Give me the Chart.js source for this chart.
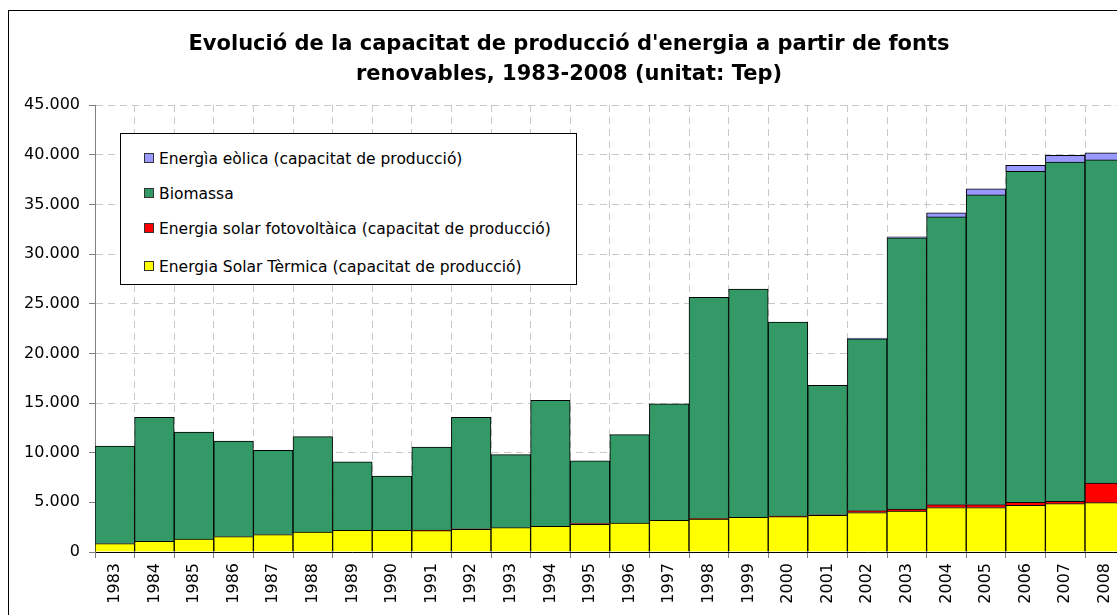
<!DOCTYPE html>
<html>
<head>
<meta charset="utf-8">
<script src="https://cdn.jsdelivr.net/npm/chart.js@4"></script>
<style>
  html, body { margin: 0; padding: 0; background: #fff; overflow: hidden; }
  #frame {
    position: absolute; left: 8px; top: 10px;
    width: 1140px; height: 620px;
    border: 1px solid #000;
  }
  #chart { position: absolute; left: 0; top: 0; }
  #legend {
    position: absolute; left: 111px; top: 122px;
    width: 455px; height: 150px;
    border: 1px solid #000; background: #fff;
    font-family: "DejaVu Sans", sans-serif; font-size: 15.5px; color: #000;
  }
  #legend .item { position: absolute; left: 23px; white-space: nowrap; }
  #legend .box {
    display: inline-block; width: 8px; height: 8px;
    border: 1px solid #333; margin-right: 5px; vertical-align: 1px;
  }
</style>
</head>
<body>
<div id="frame">
  <canvas id="chart" width="1120" height="604"></canvas>
  <div id="legend"></div>
</div>
<script>
// Data (Tep)
const years = ['1983', '1984', '1985', '1986', '1987', '1988', '1989', '1990', '1991', '1992',
  '1993', '1994', '1995', '1996', '1997', '1998', '1999', '2000', '2001', '2002',
  '2003', '2004', '2005', '2006', '2007', '2008'];

const solarTermica = [845, 1075, 1310, 1550, 1750, 2010, 2180, 2180, 2150, 2290,
  2450, 2590, 2790, 2920, 3190, 3320, 3490, 3560, 3690, 3970,
  4130, 4470, 4470, 4700, 4870, 4970];

const fotovoltaica = [0, 0, 0, 0, 0, 0, 0, 0, 50, 50,
  0, 0, 80, 0, 0, 40, 0, 60, 60, 200,
  200, 300, 300, 300, 240, 1980];

const biomassa = [9815, 12475, 10760, 9620, 8480, 9600, 6910, 5470, 8360, 11210,
  7350, 12670, 6320, 8890, 11740, 22290, 22970, 19520, 13020, 17300,
  27300, 28970, 31180, 33330, 34160, 32530];

const eolica = [0, 0, 0, 0, 0, 0, 0, 0, 0, 0,
  0, 0, 0, 0, 0, 0, 0, 0, 0, 80,
  100, 400, 610, 600, 670, 700];

const seriesLabels = [
  'Energia Solar Tèrmica (capacitat de producció)',
  'Energia solar fotovoltàica (capacitat de producció)',
  'Biomassa',
  'Energìa eòlica (capacitat de producció)'
];
const seriesColors = ['#FFFF00', '#FF0000', '#339966', '#9999FF'];

const yMax = 45000;
const yStep = 5000;

const titleLines = [
  "Evolució de la capacitat de producció d'energia a partir de fonts",
  'renovables, 1983-2008 (unitat: Tep)'
];

const fontFamily = '"DejaVu Sans", sans-serif';

// 45000 -> "45.000"
function fmt(v) {
  return String(v).replace(/\B(?=(\d{3})+(?!\d))/g, '.');
}

const seriesData = [solarTermica, fotovoltaica, biomassa, eolica];
const datasets = seriesData.map((d, i) => ({
  label: seriesLabels[i],
  data: d,
  backgroundColor: seriesColors[i],
  borderColor: '#000',
  borderWidth: 1,
  barPercentage: 1,
  categoryPercentage: 1
}));

const ctx = document.getElementById('chart').getContext('2d');
const chart = new Chart(ctx, {
  type: 'bar',
  data: { labels: years, datasets: datasets },
  options: {
    responsive: false,
    animation: false,
    layout: { padding: 0 },
    plugins: {
      legend: { display: false },
      tooltip: { enabled: false },
      title: {
        display: true,
        text: titleLines,
        color: '#000',
        font: { family: fontFamily, size: 21, weight: 'bold', lineHeight: 1.43 },
        padding: { top: 19, bottom: 15 }
      }
    },
    scales: {
      x: {
        stacked: true,
        afterFit: s => { s.height = 63; },
        grid: { color: '#c8c8c8', tickColor: '#808080', tickLength: 6, offset: true },
        border: { color: '#000', dash: [7, 5] },
        ticks: {
          color: '#000',
          font: { family: fontFamily, size: 16 },
          maxRotation: 90, minRotation: 90,
          padding: 5,
          autoSkip: false
        }
      },
      y: {
        stacked: true,
        min: 0,
        max: yMax,
        afterFit: s => { s.width = 86; },
        grid: { color: '#c8c8c8', tickColor: '#808080', tickLength: 6 },
        border: { color: '#808080', dash: [7, 5] },
        ticks: {
          stepSize: yStep,
          color: '#000',
          font: { family: fontFamily, size: 16 },
          padding: 9,
          callback: v => fmt(v)
        }
      }
    }
  }
});

// Legend box inside the plot, top series first like the original
const legend = document.getElementById('legend');
const tops = [16, 51, 86, 124];
[3, 2, 1, 0].forEach((k, i) => {
  const item = document.createElement('div');
  item.className = 'item';
  item.style.top = tops[i] + 'px';
  item.innerHTML = '<span class="box" style="background:' + seriesColors[k] + '"></span>' + seriesLabels[k];
  legend.appendChild(item);
});
</script>
</body>
</html>
